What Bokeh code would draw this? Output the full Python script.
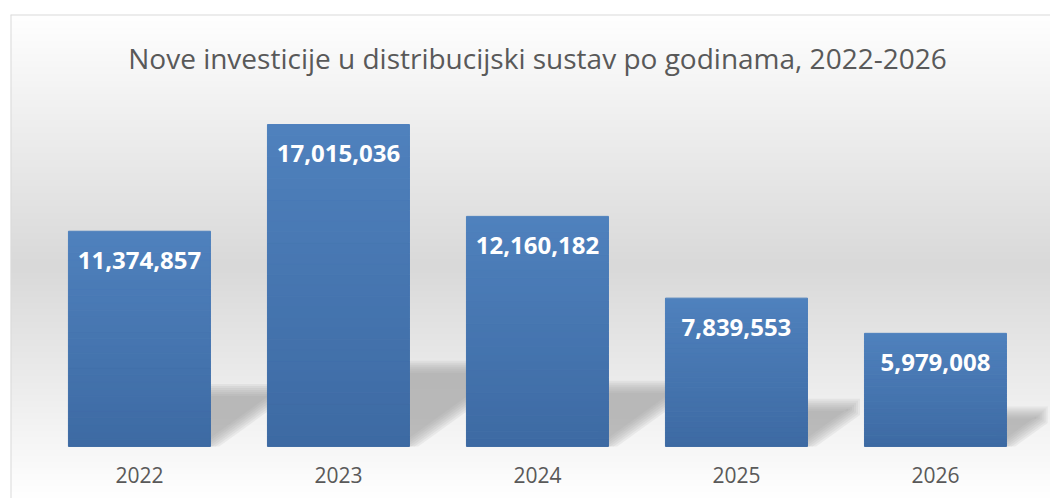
import numpy as np
from bokeh.plotting import figure
from bokeh.models import Range1d, Span
from bokeh.core.properties import value
from bokeh.embed import file_html
from bokeh.resources import INLINE

# ---- data ----
years = ["2022", "2023", "2024", "2025", "2026"]
investments = [11374857, 17015036, 12160182, 7839553, 5979008]
title_text = "Nove investicije u distribucijski sustav po godinama, 2022-2026"

# ---- figure ----
W, H = 1050, 498
BORDER_L, BORDER_T = 10, 14
FW, FH = W - BORDER_L, H - BORDER_T
xr = Range1d(-0.648, 4.578)
yr = Range1d(-2.75e6, 22.83e6)

p = figure(width=W, height=H, output_backend="svg", toolbar_location=None,
           x_range=xr, y_range=yr, x_axis_location=None, y_axis_location=None,
           min_border_left=BORDER_L, min_border_top=BORDER_T,
           min_border_right=0, min_border_bottom=0)
p.grid.visible = False
p.outline_line_color = None
p.background_fill_color = "white"
p.border_fill_color = "white"

ux = (xr.end - xr.start) / FW   # data units per px (x)
uy = (yr.end - yr.start) / FH   # data units per px (y)

# ---- background gradient (white -> light gray -> white) ----
rows = FH
t_from_top = 1.0 - np.arange(rows) / (rows - 1)
gray = np.interp(t_from_top, [0.0, 0.52, 1.0], [255, 217, 255]).astype(np.uint8)
img = np.empty((rows, 2), dtype=np.uint32)
view = img.view(dtype=np.uint8).reshape((rows, 2, 4))
view[:, :, 0] = gray[:, None]
view[:, :, 1] = gray[:, None]
view[:, :, 2] = gray[:, None]
view[:, :, 3] = 255
p.image_rgba(image=[img], x=xr.start, y=yr.start,
             dw=xr.end - xr.start, dh=yr.end - yr.start)

# chart border (left and top visible)
p.add_layout(Span(location=xr.start, dimension="height", line_color="#d9d9d9", line_width=2))
p.add_layout(Span(location=yr.end, dimension="width", line_color="#d9d9d9", line_width=2))

idx = list(range(len(years)))
bar_w = 0.7136

# ---- soft perspective shadows (layered) ----
s = 0.72
for e in [-5, -3, -1, 1, 3, 5, 7]:
    sx, sy = [], []
    for i, v in zip(idx, investments):
        h = v / uy
        dx = 0.32 * h
        top = 10 + 0.22 * h
        x1 = i + bar_w / 2
        pts = [(-10, 0), (-1.25 * e / s, 0), (dx - e, s * (dx - e) + 1.25 * e),
               (dx - e, top - e), (-10, top - e)]
        sx.append([x1 + a * ux for a, _ in pts])
        sy.append([max(b, 0) * uy for _, b in pts])
    p.patches(sx, sy, fill_color="#9c9c9c", fill_alpha=0.13, line_color=None)

# ---- bars with vertical gradient ----
N = 30
top_rgb = np.array([79, 129, 189])
bot_rgb = np.array([61, 106, 163])
bx, bb, bt, bc = [], [], [], []
for i, v in zip(idx, investments):
    for k in range(N):
        f = (k + 0.5) / N
        c = (bot_rgb + (top_rgb - bot_rgb) * f).round().astype(int)
        bx.append(i)
        bb.append(v * k / N)
        bt.append(v * (k + 1) / N)
        bc.append("#%02x%02x%02x" % tuple(c))
p.vbar(x=bx, bottom=bb, top=bt, width=bar_w, fill_color=bc, line_color=bc, line_width=1)

# ---- data labels ----
labels = [f"{v:,}" for v in investments]
p.text(x=idx, y=investments, text=labels, text_color="white",
       text_font=value("Open Sans"), text_font_style="bold", text_font_size="24px",
       text_align="center", text_baseline="middle", y_offset=29)

# ---- category labels ----
p.text(x=idx, y=[0] * len(idx), text=years, text_color="#595959",
       text_font=value("Open Sans"), text_font_size="21px",
       text_align="center", text_baseline="middle", y_offset=29)

# ---- title ----
p.text(x=[(len(idx) - 1) / 2], y=[yr.end], text=[title_text], text_color="#595959",
       text_font=value("Open Sans"), text_font_size="28px",
       text_align="center", text_baseline="middle", y_offset=43)

open("out.html", "w").write(file_html(p, INLINE))
